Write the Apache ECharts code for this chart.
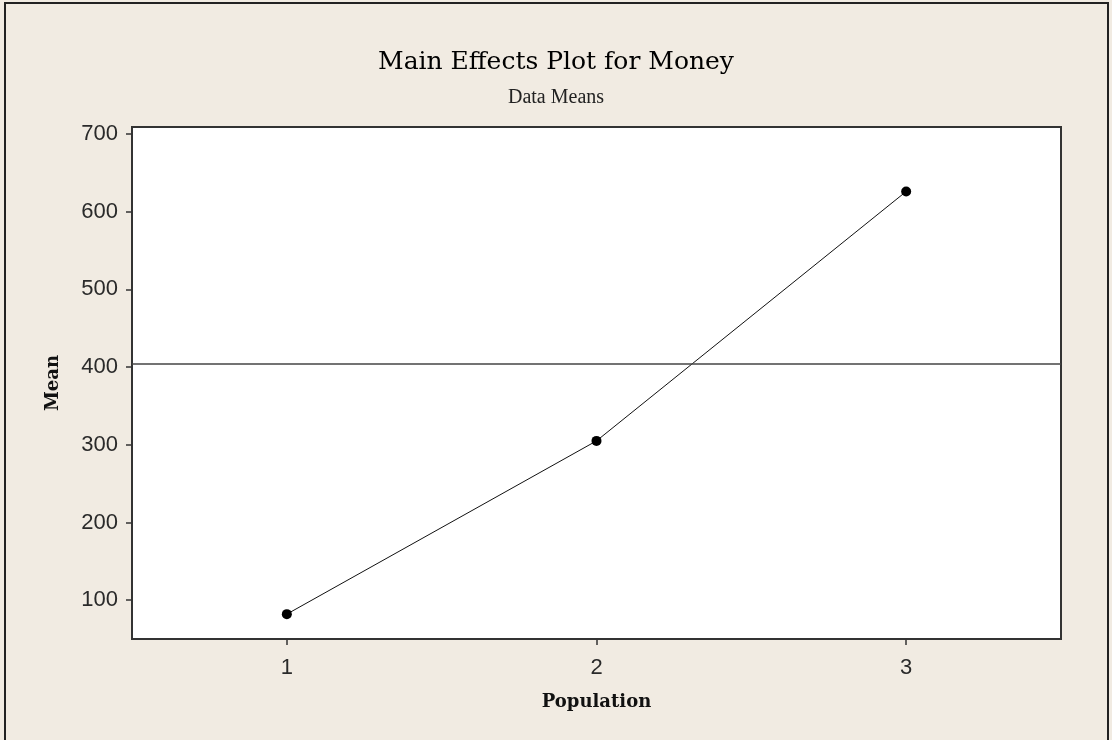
<!DOCTYPE html>
<html>
<head>
<meta charset="utf-8">
<script src="https://cdn.jsdelivr.net/npm/echarts@6/dist/echarts.min.js"></script>
<style>
  html, body { margin: 0; padding: 0; background: #f1ebe2; }
  #chart { width: 1112px; height: 740px; }
</style>
</head>
<body>
<div id="chart"></div>
<script>
// Factor levels and the mean response at each level
const populationLevels = [1, 2, 3];
const meanMoney = [82, 305, 626];
// Overall mean of the response (reference line)
const grandMean = 404;
// Tick labels
const yTicks = [100, 200, 300, 400, 500, 600, 700];
const xTicks = [1, 2, 3];

const chart = echarts.init(document.getElementById('chart'), null, { renderer: 'canvas' });

const tickLabel = { fontFamily: 'Liberation Sans', fontSize: 22, color: '#2a2a2a' };
const axisNameStyle = { fontFamily: 'DejaVu Serif', fontWeight: 'bold', fontSize: 18, color: '#111' };

chart.setOption({
  backgroundColor: '#f1ebe2',
  animation: false,
  title: [
    {
      text: 'Main Effects Plot for Money',
      left: 'center', top: 45,
      textStyle: { fontFamily: 'DejaVu Serif', fontSize: 25, fontWeight: 'normal', color: '#000' }
    },
    {
      text: 'Data Means',
      left: 'center', top: 83,
      textStyle: { fontFamily: 'Liberation Serif', fontSize: 20, fontWeight: 'normal', color: '#222' }
    }
  ],
  graphic: [
    {
      type: 'rect', silent: true,
      shape: { x: 5, y: 3, width: 1103, height: 760 },
      style: { fill: 'none', stroke: '#222', lineWidth: 2 }
    }
  ],
  grid: {
    left: 132, right: 51, top: 127, bottom: 101,
    show: true, backgroundColor: '#ffffff', borderColor: '#333', borderWidth: 2
  },
  xAxis: {
    type: 'value', min: 0.5, max: 3.5,
    name: 'Population', nameLocation: 'middle', nameGap: 54,
    nameTextStyle: axisNameStyle,
    axisLine: { show: false },
    axisTick: { show: true, length: 6, customValues: xTicks, lineStyle: { color: '#333', width: 1.5 } },
    axisLabel: Object.assign({ margin: 18, customValues: xTicks }, tickLabel),
    splitLine: { show: false }
  },
  yAxis: {
    type: 'value', min: 50, max: 709,
    name: 'Mean', nameLocation: 'middle', nameGap: 70, nameRotate: 90,
    nameTextStyle: axisNameStyle,
    axisLine: { show: false },
    axisTick: { show: true, length: 6, customValues: yTicks, lineStyle: { color: '#333', width: 1.5 } },
    axisLabel: Object.assign({ margin: 14, customValues: yTicks }, tickLabel),
    splitLine: { show: false }
  },
  series: [
    {
      type: 'line',
      data: populationLevels.map((p, i) => [p, meanMoney[i]]),
      symbol: 'circle', symbolSize: 10,
      lineStyle: { color: '#111', width: 1 },
      itemStyle: { color: '#000' },
      markLine: {
        silent: true, symbol: 'none', label: { show: false },
        lineStyle: { color: '#444', width: 1.5, type: 'solid' },
        data: [{ yAxis: grandMean }]
      }
    }
  ]
});
</script>
</body>
</html>
